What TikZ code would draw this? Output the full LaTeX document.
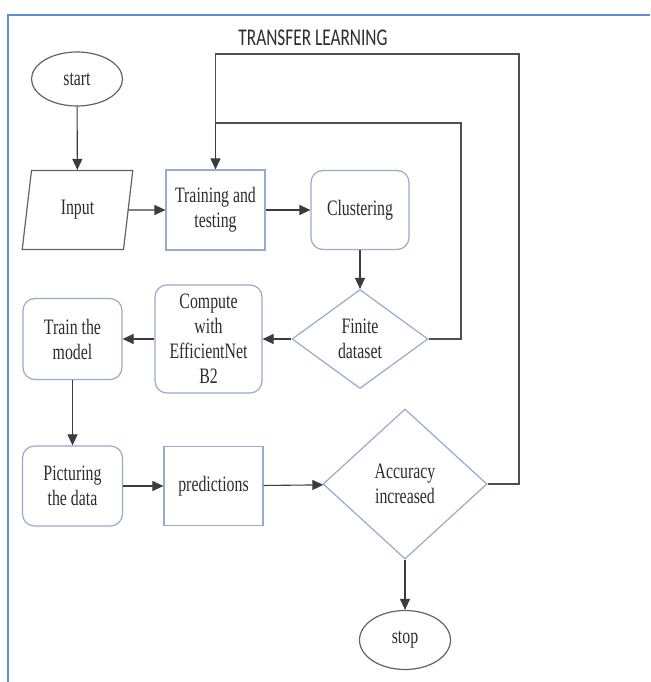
\documentclass[tikz,border=0pt]{standalone}
\usepackage{fontspec}
\setmainfont{Liberation Serif}[FakeStretch=0.72]
\newfontfamily\titlefont{Carlito}[FakeStretch=0.72]
\usetikzlibrary{shapes.geometric,arrows.meta}
\definecolor{boxblue}{RGB}{150,172,204}
\definecolor{framblue}{RGB}{95,140,210}
\definecolor{txt}{RGB}{45,45,45}
\definecolor{lin}{RGB}{60,60,60}
\tikzset{
  lbl/.style={font=\fontsize{22}{25}\selectfont, text=txt, align=center, inner sep=0pt},
  sqbox/.style={lbl, draw=boxblue, line width=1.2pt, rectangle, minimum width=99pt, minimum height=80pt},
  rbox/.style={sqbox, rounded corners=12pt},
  dia/.style={lbl, draw=boxblue, line width=1.2pt, diamond, aspect=1.4},
  oval/.style={lbl, draw=lin!80, line width=1.2pt, ellipse},
  conn/.style={draw=lin, line width=1.1pt, -{Triangle[length=11pt,width=10pt]}},
  fb/.style={draw=lin!90, line width=1.1pt},
}
\begin{document}
\begin{tikzpicture}[x=1pt,y=-1pt]
\useasboundingbox (0,0) rectangle (650,682);
\fill[white] (0,0) rectangle (650,682);
\draw[framblue, line width=2pt] (8,682) -- (8,15) -- (650,15);
\node[font=\titlefont\fontsize{24}{26}\selectfont, text=txt, inner sep=0pt] (title) at (313,38) {TRANSFER LEARNING};

\node[oval, minimum width=91pt, minimum height=54pt] (start) at (77,79) {start};
\node[lbl, draw=lin!80, line width=1.2pt, trapezium, trapezium left angle=80, trapezium right angle=100, trapezium stretches=true, minimum width=111pt, minimum height=79pt] (input) at (77.5,210) {Input};
\node[sqbox] (train) at (215.5,210) {Training and\\testing};
\node[rbox, minimum width=98pt, minimum height=79pt] (clus) at (360,210) {Clustering};
\node[dia, minimum width=136pt, minimum height=99pt] (finite) at (360,339) {Finite\\dataset};
\node[rbox, minimum width=107pt, minimum height=108pt] (comp) at (208.5,339) {Compute\\with\\EfficientNet\\B2};
\node[rbox, minimum height=81pt] (model) at (72.5,339) {Train the\\model};
\node[rbox, minimum width=100pt] (pict) at (72.5,486) {Picturing\\the data};
\node[sqbox, minimum height=79pt] (pred) at (213.5,486) {predictions};
\node[dia, minimum width=164pt, minimum height=150pt] (acc) at (405,484) {Accuracy\\increased};
\node[oval, minimum width=91pt, minimum height=59pt] (stop) at (405,640) {stop};

\coordinate (fbA) at (461,123);
\coordinate (fbB) at (519,54);

\draw[conn] (start) -- (input);
\draw[conn] (input) -- (train);
\draw[conn] (train) -- (clus);
\draw[conn] (clus) -- (finite);
\draw[conn] (finite) -- (comp);
\draw[conn] (comp) -- (model);
\draw[conn] (model) -- (pict);
\draw[conn] (pict) -- (pred);
\draw[conn] (pred) -- (acc);
\draw[conn] (acc) -- (stop);
\draw[fb] (acc.east) -| (fbB) -| (fbA -| train.north);
\draw[fb] (finite.east) -| (fbA) -| (train.north);
\draw[conn] (fbA -| train.north) -- (train.north);
\end{tikzpicture}
\end{document}
